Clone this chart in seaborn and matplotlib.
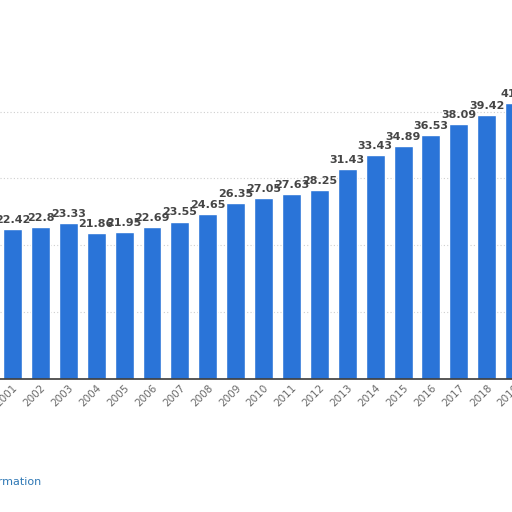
import matplotlib
matplotlib.use("Agg")
import matplotlib.pyplot as plt
import seaborn as sns
import pandas as pd

# datos
years = ["2001", "2002", "2003", "2004", "2005", "2006", "2007", "2008", "2009", "2010",
         "2011", "2012", "2013", "2014", "2015", "2016", "2017", "2018", "2019"]
values = [22.42, 22.8, 23.33, 21.86, 21.95, 22.69, 23.55, 24.65, 26.35, 27.05,
          27.63, 28.25, 31.43, 33.43, 34.89, 36.53, 38.09, 39.42, 41.2]
labels = ["22.42", "22.8", "23.33", "21.86", "21.95", "22.69", "23.55", "24.65", "26.35", "27.05",
          "27.63", "28.25", "31.43", "33.43", "34.89", "36.53", "38.09", "39.42", "41.2"]

df = pd.DataFrame({"year": years, "value": values})

sns.set_style("white")
fig = plt.figure(figsize=(5.12, 5.12), dpi=100)
# el eje es un poco mas ancho que la figura para que 2019 quede cortado
ax = fig.add_axes([0, 0.2598, 1.027, 0.653])

sns.barplot(data=df, x="year", y="value", color="#2a74d8", saturation=1, width=0.68, ax=ax)

ax.set_xlim(-0.448, 18.4)
ax.set_ylim(0, 50)
ax.yaxis.grid(True, linestyle=(0, (1, 2)), color="#cfcfcf", linewidth=0.8)
ax.set_axisbelow(True)
ax.set_yticks([10, 20, 30, 40])
ax.tick_params(axis="y", left=False, labelleft=False)
ax.tick_params(axis="x", length=0, pad=3, labelsize=7.5, labelcolor="#6a6a6a")
for t in ax.get_xticklabels():
    t.set_rotation(45)
    t.set_ha("right")
    t.set_rotation_mode("anchor")
ax.set_xlabel("")
ax.set_ylabel("")
for s in ["top", "left", "right"]:
    ax.spines[s].set_visible(False)
ax.spines["bottom"].set_color("#3a3a3a")
ax.spines["bottom"].set_linewidth(1.2)

for bar, lab in zip(ax.patches, labels):
    ax.text(bar.get_x() + bar.get_width() / 2, bar.get_height() + 0.6, lab,
            ha="center", va="bottom", fontsize=8, fontweight="bold", color="#454545",
            clip_on=False)

fig.text(0.081, 0.058, "Additional Information", ha="right", va="center",
         fontsize=8, color="#2f78b5")

fig.savefig("out.png", dpi=100, facecolor="white")
